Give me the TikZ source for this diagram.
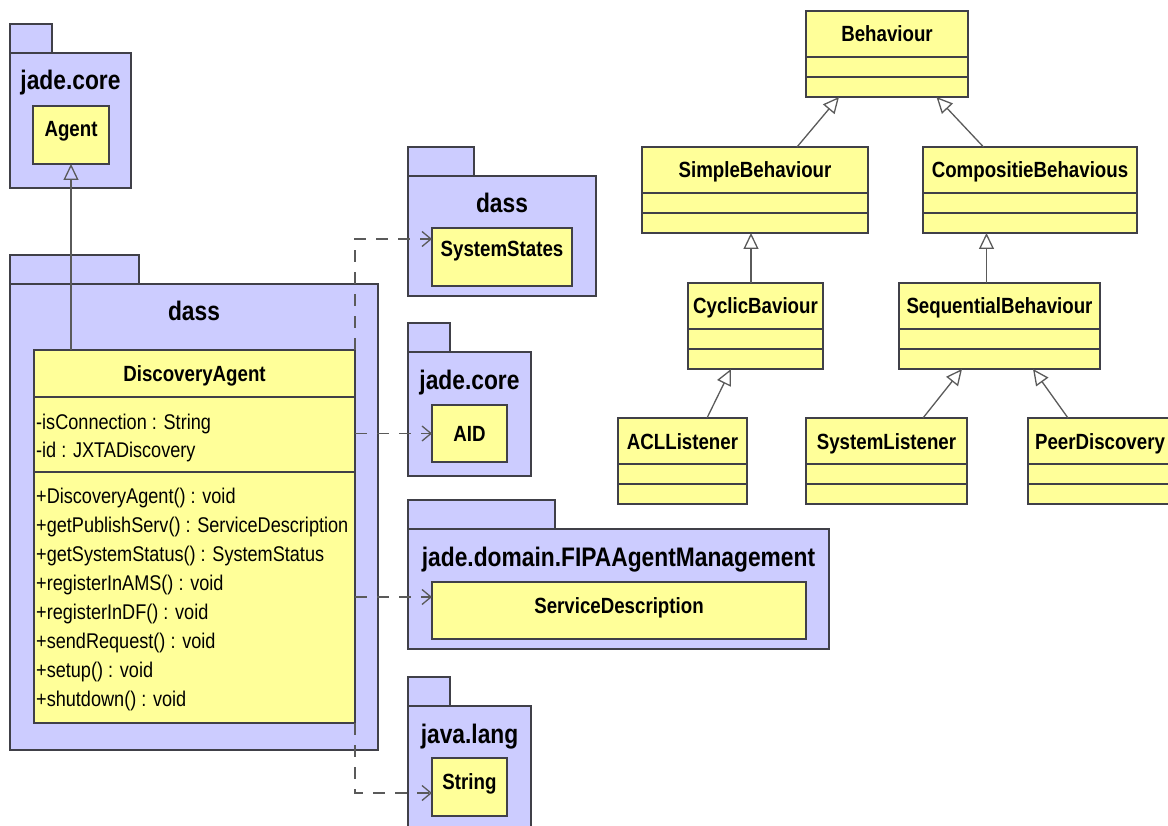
\documentclass[tikz,border=0pt]{standalone}
\usepackage{fontspec}
\setmainfont{Liberation Sans}[FakeStretch=0.85]
\usetikzlibrary{arrows.meta,calc}

\definecolor{pkgblue}{RGB}{204,204,255}
\definecolor{clsyellow}{RGB}{255,255,153}
\definecolor{edge}{RGB}{64,64,72}
\definecolor{wire}{RGB}{90,90,90}

\tikzset{
  pkgbody/.style={draw=edge, fill=pkgblue, line width=1.6pt, anchor=north west, inner sep=0pt, outer sep=0pt},
  pkgtab/.style={draw=edge, fill=pkgblue, line width=1.6pt},
  pkgname/.style={font=\fontsize{26.8}{30}\selectfont\bfseries, anchor=base, inner sep=0pt},
  clsbox/.style={draw=edge, fill=clsyellow, line width=1.6pt, anchor=north west, inner sep=0pt, outer sep=0pt},
  clsname/.style={font=\fontsize{22}{26}\selectfont\bfseries, anchor=base, inner sep=0pt},
  member/.style={font=\fontsize{21.3}{25}\selectfont, anchor=base west, inner sep=0pt},
  compline/.style={draw=edge, line width=1.6pt},
  gen/.style={draw=wire, line width=1.3pt, -{Triangle[open, length=16pt, width=15pt]}},
  dep/.style={draw=wire, line width=1.3pt, dash pattern=on 12pt off 10pt, -{Straight Barb[length=9pt, width=15pt]}},
}

\begin{document}
\begin{tikzpicture}[x=1pt, y=-1pt]
    \useasboundingbox (0,0) rectangle (1168,826);
    \clip (0,0) rectangle (1168,826);

    % packages: name / left / top / right / bottom / tab right / label
    \foreach \p/\xa/\ya/\xb/\yb/\tb/\lab in {
        corepkg/10/53/131/188/52/jade.core,
        dasspkg/10/284/378/750/139/dass,
        statepkg/408/176/596/296/474/dass,
        aidpkg/408/352/531/476/450/jade.core,
        fipapkg/408/529/829/649/555/jade.domain.FIPAAgentManagement,
        langpkg/408/706/531/850/450/java.lang} {
        \draw[pkgtab] (\xa,\ya-29) rectangle (\tb,\ya);
        \node[pkgbody, minimum width=\xb-\xa, minimum height=\yb-\ya] (\p) at (\xa,\ya) {};
        \node[pkgname] (\p-label) at ($(\p.north)+(0,37)$) {\lab};
    }

    % classes inside the packages
    \foreach \c/\xa/\ya/\xb/\yb/\off/\ttl in {
        agent/33/106/109/164/31/Agent,
        states/432/228/572/286/29/SystemStates,
        aid/432/405/507/462/37/AID,
        servdesc/432/582/806/639/31/ServiceDescription,
        string/432/758/507/816/31/String} {
        \node[clsbox, minimum width=\xb-\xa, minimum height=\yb-\ya] (\c) at (\xa,\ya) {};
        \node[clsname] (\c-name) at ($(\c.north)+(0,\off)$) {\ttl};
    }

    % DiscoveryAgent
    \node[clsbox, minimum width=321, minimum height=373] (discovery) at (34,350) {};
    \node[clsname] (discovery-name) at ($(discovery.north)+(0,32)$) {DiscoveryAgent};
    \draw[compline] ($(discovery.north west)+(0,47)$) -- ($(discovery.north east)+(0,47)$);
    \draw[compline] ($(discovery.north west)+(0,122)$) -- ($(discovery.north east)+(0,122)$);
    \node[member] (attr1) at (36,429) {-isConnection : String};
    \node[member] (attr2) at (36,457) {-id : JXTADiscovery};
    \foreach \op [count=\i] in {+DiscoveryAgent() : void,
        +getPublishServ() : ServiceDescription,
        +getSystemStatus() : SystemStatus,
        +registerInAMS() : void,
        +registerInDF() : void,
        +sendRequest() : void,
        +setup() : void,
        +shutdown() : void}
        \node[member] (op\i) at (36,474+29*\i) {\op};

    % behaviour hierarchy
    \foreach \c/\xa/\ya/\xb/\ttl in {
        behav/806/11/968/Behaviour,
        simple/642/147/868/SimpleBehaviour,
        compos/923/147/1137/CompositieBehavious,
        cyclic/688/283/823/CyclicBaviour,
        sequen/899/283/1100/SequentialBehaviour,
        acl/618/418/747/ACLListener,
        syslist/806/418/967/SystemListener,
        peer/1028/418/1172/PeerDiscovery} {
        \node[clsbox, minimum width=\xb-\xa, minimum height=86] (\c) at (\xa,\ya) {};
        \node[clsname] (\c-name) at ($(\c.north)+(0,31)$) {\ttl};
        \draw[compline] ($(\c.north west)+(0,46)$) -- ($(\c.north east)+(0,46)$);
        \draw[compline] ($(\c.north west)+(0,66)$) -- ($(\c.north east)+(0,66)$);
    }

    % generalisations
    \draw[gen] (discovery.north -| agent.south) -- (agent.south);
    \draw[gen] ([xshift=42pt]simple.north) -- ([xshift=-48pt]behav.south);
    \draw[gen] ([xshift=-46.5pt]compos.north) -- ([xshift=49.5pt]behav.south);
    \draw[gen] ([xshift=-4.5pt]cyclic.north) -- ([xshift=-4pt]simple.south);
    \draw[gen] ([xshift=-13pt]sequen.north) -- ([xshift=-43.5pt]compos.south);
    \draw[gen] ([xshift=24.5pt]acl.north) -- ([xshift=-24.5pt]cyclic.south);
    \draw[gen] ([xshift=36.5pt]syslist.north) -- ([xshift=-37.5pt]sequen.south);
    \draw[gen] ([xshift=-32pt]peer.north) -- ([xshift=33.5pt]sequen.south);

    % dependencies
    \coordinate (statesin) at ([yshift=18pt]states.west);
    \coordinate (servin) at ([yshift=13.5pt]servdesc.west);
    \coordinate (stringin) at ([yshift=-6pt]string.west);
    \draw[dep] (discovery.north east) |- (statesin);
    \draw[dep] (discovery.east |- aid.west) -- (aid.west);
    \draw[dep] (discovery.east |- servin) -- (servin);
    \draw[dep] (discovery.south east) |- (stringin);
\end{tikzpicture}
\end{document}
